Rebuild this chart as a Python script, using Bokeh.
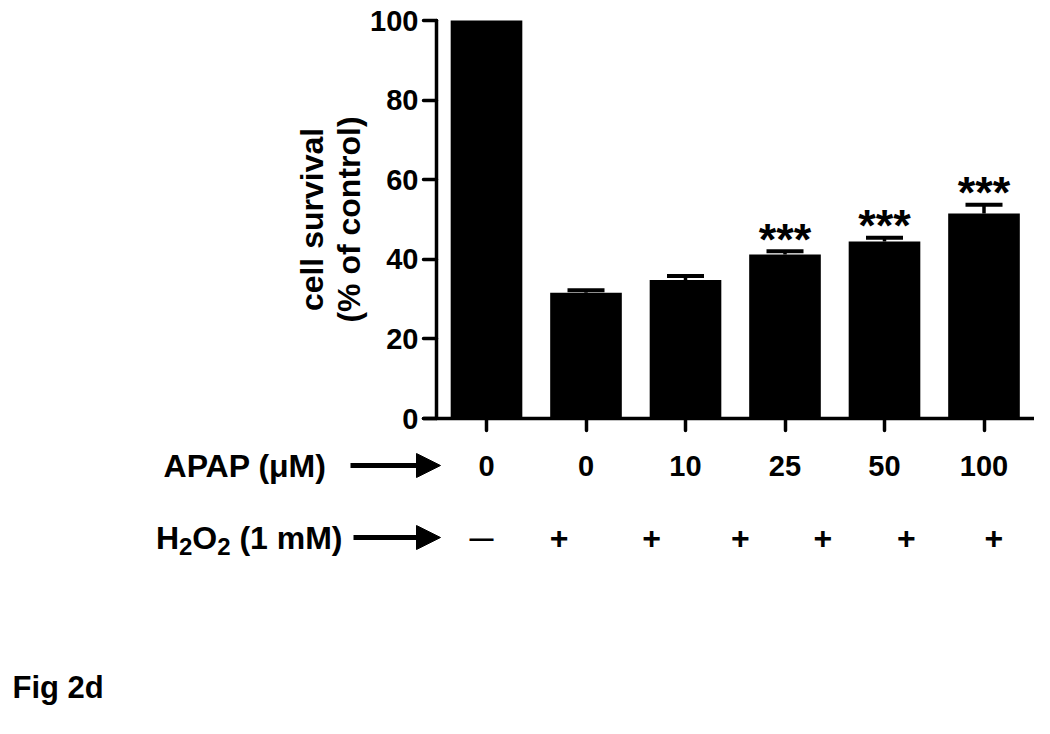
import math
from bokeh.plotting import figure
from bokeh.models import (Range1d, LinearAxis, FixedTicker, ColumnDataSource,
                          Arrow, NormalHead)
from bokeh.core.properties import value
from bokeh.embed import file_html
from bokeh.resources import INLINE

# ---- data ----
apap_labels = ["0", "0", "10", "25", "50", "100"]
survival = [100.0, 31.6, 34.8, 41.2, 44.5, 51.5]
sem = [0.0, 0.6, 1.0, 0.8, 0.9, 2.2]
signif = ["", "", "", "***", "***", "***"]
h2o2_signs = ["\u2014", "+", "+", "+", "+", "+", "+"]
y_ticks = [0, 20, 40, 60, 80, 100]

# ---- layout (positions in data units, not data values) ----
h2o2_pos = [-0.05, 0.73, 1.66, 2.55, 3.38, 4.22, 5.10]
h2o2_sizes = ["24px"] + ["32px"] * 6
FONT = value("Liberation Sans")

PX_X = 99.5      # pixels per category
PX_Y = 3.98      # pixels per percent
X0 = 486         # pixel position of category 0
Y0 = 418         # pixel position of value 0
W, H = 1034, 718

idx = list(range(len(survival)))
top = [m + s for m, s in zip(survival, sem)]

p = figure(width=W, height=H,
           x_range=Range1d(-X0 / PX_X, (W - X0) / PX_X),
           y_range=Range1d((Y0 - H) / PX_Y, Y0 / PX_Y),
           x_axis_location=None, y_axis_location=None,
           toolbar_location=None, output_backend="svg",
           min_border=0, outline_line_color=None)
p.xgrid.visible = False
p.ygrid.visible = False
p.background_fill_color = "white"
p.border_fill_color = "white"

src = ColumnDataSource(dict(x=idx, y=survival, top=top, sig=signif))
err_idx = [i for i in idx if sem[i] > 0]
esrc = ColumnDataSource(dict(x=err_idx, y=[survival[i] for i in err_idx],
                             top=[top[i] for i in err_idx]))

# bars
p.vbar(x="x", top="y", bottom=0, width=0.72, source=src,
       fill_color="black", line_color=None)
# error bars (upper only)
p.segment(x0="x", y0="y", x1="x", y1="top", source=esrc,
          line_color="black", line_width=3.5)
p.scatter(x="x", y="top", marker="dash", size=37, source=esrc,
          line_color="black", line_width=4)
# significance stars
p.text(x="x", y="top", text="sig", source=src, text_align="center",
       text_baseline="alphabetic", y_offset=-12, text_font=FONT,
       text_font_style="bold", text_font_size="45px", text_color="black")

# y axis
yax = LinearAxis(fixed_location=(436 - X0) / PX_X, bounds=(0, 100),
                 ticker=FixedTicker(ticks=y_ticks))
yax.axis_line_width = 3.5
yax.axis_line_cap = "round"
yax.major_tick_line_width = 3.5
yax.major_tick_line_cap = "round"
yax.major_tick_out = 13
yax.major_tick_in = 0
yax.minor_tick_line_color = None
yax.major_label_standoff = 5
yax.major_label_text_font = "Liberation Sans"
yax.major_label_text_font_style = "bold"
yax.major_label_text_font_size = "29px"
yax.major_label_text_color = "black"
p.add_layout(yax, "left")

# x axis (APAP concentrations as tick labels)
xax = LinearAxis(fixed_location=0, bounds=((423 - X0) / PX_X, (1035 - X0) / PX_X),
                 ticker=FixedTicker(ticks=idx))
xax.major_label_overrides = {i: lab for i, lab in zip(idx, apap_labels)}
xax.axis_line_width = 3.5
xax.axis_line_cap = "round"
xax.major_tick_line_width = 3.5
xax.major_tick_line_cap = "round"
xax.major_tick_out = 12
xax.major_tick_in = 0
xax.minor_tick_line_color = None
xax.major_label_standoff = 25
xax.major_label_text_font = "Liberation Sans"
xax.major_label_text_font_style = "bold"
xax.major_label_text_font_size = "29px"
xax.major_label_text_color = "black"
p.add_layout(xax, "below")

def px(x):
    return (x - X0) / PX_X

def py(y):
    return (Y0 - y) / PX_Y

# y axis title (two lines, rotated)
p.text(x=[px(311), px(348)], y=[50, 50], text=["cell survival", "(% of control)"],
       angle=math.pi / 2, text_align="center", text_baseline="middle",
       text_font=FONT, text_font_style="bold", text_font_size="32px",
       text_color="black")

# row labels
p.text(x=[px(326)], y=[py(465)], text=["APAP (\u03bcM)"], text_align="right",
       text_baseline="middle", text_font=FONT, text_font_style="bold",
       text_font_size="32px", text_color="black")

hx, hy = px(342), py(537)
p.text(x=[hx], y=[hy], text=["(1 mM)"], text_align="right", text_baseline="middle",
       text_font=FONT, text_font_style="bold", text_font_size="32px",
       text_color="black")
p.text(x=[hx, hx], y=[hy, hy], text=["O", "H"], x_offset=[-125.3, -163.5],
       text_align="right", text_baseline="middle", text_font=FONT,
       text_font_style="bold", text_font_size="32px", text_color="black")
p.text(x=[hx, hx], y=[hy, hy], text=["2", "2"], x_offset=[-112, -150.2],
       y_offset=9, text_align="right", text_baseline="middle", text_font=FONT,
       text_font_style="bold", text_font_size="24px", text_color="black")

# H2O2 signs
ssrc = ColumnDataSource(dict(x=h2o2_pos, y=[hy] * len(h2o2_pos), t=h2o2_signs,
                             fs=h2o2_sizes))
p.text(x="x", y="y", text="t", source=ssrc, text_font_size="fs",
       text_align="center", text_baseline="middle", text_font=FONT,
       text_font_style="bold", text_color="black")

# arrows
for xs, xe, yy in [(350, 440, 465), (353, 440, 537)]:
    p.add_layout(Arrow(end=NormalHead(size=24, fill_color="black", line_color="black"),
                       x_start=px(xs), y_start=py(yy), x_end=px(xe), y_end=py(yy),
                       line_width=5, line_color="black"))

# figure tag
p.text(x=[px(12)], y=[py(687)], text=["Fig 2d"], text_align="left",
       text_baseline="middle", text_font=FONT, text_font_style="bold",
       text_font_size="31px", text_color="black")

open("out.html", "w").write(file_html(p, INLINE))
